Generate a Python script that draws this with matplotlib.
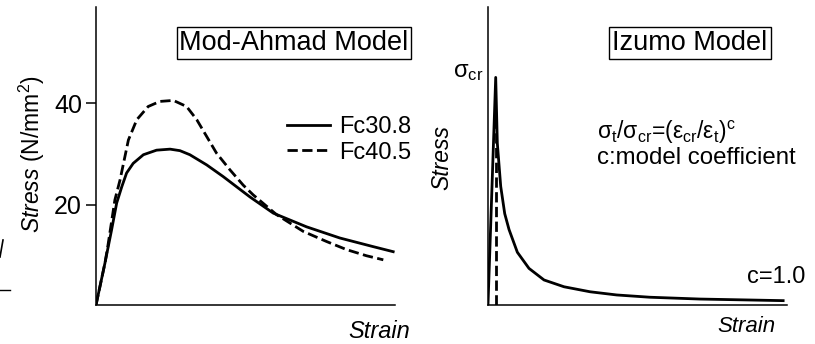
import numpy as np
import matplotlib
matplotlib.use('Agg')
import matplotlib.pyplot as plt
from matplotlib.lines import Line2D

plt.rcParams['font.family'] = ['Liberation Sans', 'DejaVu Sans']
plt.rcParams['mathtext.fontset'] = 'custom'
plt.rcParams['mathtext.rm'] = 'Liberation Sans'
plt.rcParams['mathtext.it'] = 'Liberation Sans:italic'

# Mod-Ahmad model curves (strain in arbitrary units, stress in N/mm2)
fc308_strain = [0, 0.30, 0.52, 0.69, 0.86, 1.02, 1.24, 1.58, 2.02, 2.47, 2.8, 3.13,
                3.69, 4.24, 5.13, 5.91, 7.02, 8.13, 9.24, 9.91]
fc308_stress = [0.3, 8.6, 15.1, 20.4, 23.6, 26.3, 28.2, 29.9, 30.8, 31.0, 30.7, 29.9,
                27.9, 25.6, 21.6, 18.4, 15.7, 13.5, 11.8, 10.8]

fc405_strain = [0, 0.30, 0.4, 0.63, 0.8, 1.08, 1.36, 1.74, 2.13, 2.58, 3.02, 3.36, 3.69,
                4.02, 4.47, 4.91, 5.24, 6.02, 6.91, 7.69, 8.36, 9.02, 9.58]
fc405_stress = [0.3, 8.6, 12.1, 21.0, 24.9, 32.8, 36.8, 39.4, 40.4, 40.6, 39.4, 36.8, 33.5,
                30.2, 26.9, 23.9, 22.0, 18.1, 14.8, 12.8, 11.2, 10.0, 9.2]

# Izumo model (normalised stress sigma/sigma_cr)
izumo_strain = [0, 1.0, 1.21, 1.65, 2.17, 2.73, 3.81, 5.32, 7.27, 9.87, 13.25, 16.7,
                21.0, 27.5, 38.3]
izumo_stress = [0, 1.0, 0.71, 0.52, 0.40, 0.33, 0.23, 0.159, 0.108, 0.078, 0.056, 0.042,
                0.032, 0.024, 0.017]

crack_strain = 1.0
crack_top = 0.8

W, H = 815, 344
fig = plt.figure(figsize=(W / 100, H / 100), dpi=100)


def px_axes(x0, y0, x1, y1):
    return fig.add_axes([x0 / W, 1 - y1 / H, (x1 - x0) / W, (y1 - y0) / H])


def style_axes(ax):
    for s in ['top', 'right']:
        ax.spines[s].set_visible(False)
    for s in ['left', 'bottom']:
        ax.spines[s].set_linewidth(1.1)
    ax.set_xticks([])


# ---- left panel ----
ax1 = px_axes(96, 7, 395, 305)
style_axes(ax1)
ax1.plot(fc308_strain, fc308_stress, color='black', lw=2, label='Fc30.8')
ax1.plot(fc405_strain, fc405_stress, color='black', lw=2, ls='--', label='Fc40.5')
ax1.set_xlim(0, 9.97)
ax1.set_ylim(0.3, 59)
ax1.set_yticks([20, 40])
ax1.tick_params(axis='y', length=7, width=1.1, labelsize=18, pad=3)
ax1.legend(loc='upper left', bbox_to_anchor=(287 / W, 1 - 116 / H),
           bbox_transform=fig.transFigure, frameon=False, fontsize=17,
           handlelength=1.8, handletextpad=0.4, labelspacing=0.15,
           borderpad=0, borderaxespad=0)
fig.text(294 / W, 1 - 43 / H, 'Mod-Ahmad Model', fontsize=19.5, ha='center', va='center',
         bbox=dict(boxstyle='square,pad=0.1', fc='white', ec='black', lw=1))
fig.text(32 / W, 1 - 154 / H, r'$\mathit{Stress}$ (N/mm$^2$)', fontsize=16.5,
         rotation=90, ha='center', va='center')
fig.text(410 / W, 1 - 331 / H, 'Strain', fontsize=17, style='italic',
         ha='right', va='center')

# ---- right panel ----
ax2 = px_axes(488, 7, 787, 304.5)
style_axes(ax2)
ax2.set_yticks([])
ax2.plot(izumo_strain, izumo_stress, color='black', lw=2)
ax2.plot([crack_strain, crack_strain], [0, crack_top], color='black', lw=2, ls='--')
ax2.set_xlim(0, 38.8)
ax2.set_ylim(0, 1.31)
fig.text(690 / W, 1 - 43 / H, 'Izumo Model', fontsize=19.5, ha='center', va='center',
         bbox=dict(boxstyle='square,pad=0.12', fc='white', ec='black', lw=1))
fig.text(468 / W, 1 - 72 / H, r'σ$_\mathrm{cr}$', fontsize=17, ha='center', va='center')
fig.text(442 / W, 1 - 158 / H, 'Stress', fontsize=16.5, style='italic',
         rotation=90, ha='center', va='center')
fig.text(775 / W, 1 - 327 / H, 'Strain', fontsize=16, style='italic',
         ha='right', va='center')
fig.text(597 / W, 1 - 132 / H,
         r'σ$_\mathrm{t}$/σ$_\mathrm{cr}$=(ε$_\mathrm{cr}$/ε$_\mathrm{t}$)$^\mathrm{c}$',
         fontsize=16.5, ha='left', va='center')
fig.text(597 / W, 1 - 158 / H, 'c:model coefficient', fontsize=17.3, ha='left', va='center')
fig.text(747 / W, 1 - 277 / H, 'c=1.0', fontsize=17, ha='left', va='center')

# cropped remnants at the left edge
fig.add_artist(Line2D([3 / W, 0], [1 - 240 / H, 1 - 257 / H], color='black', lw=1.2))
fig.add_artist(Line2D([0, 10 / W], [1 - 290 / H, 1 - 290 / H], color='black', lw=1))

fig.savefig('out.png', dpi=100)
